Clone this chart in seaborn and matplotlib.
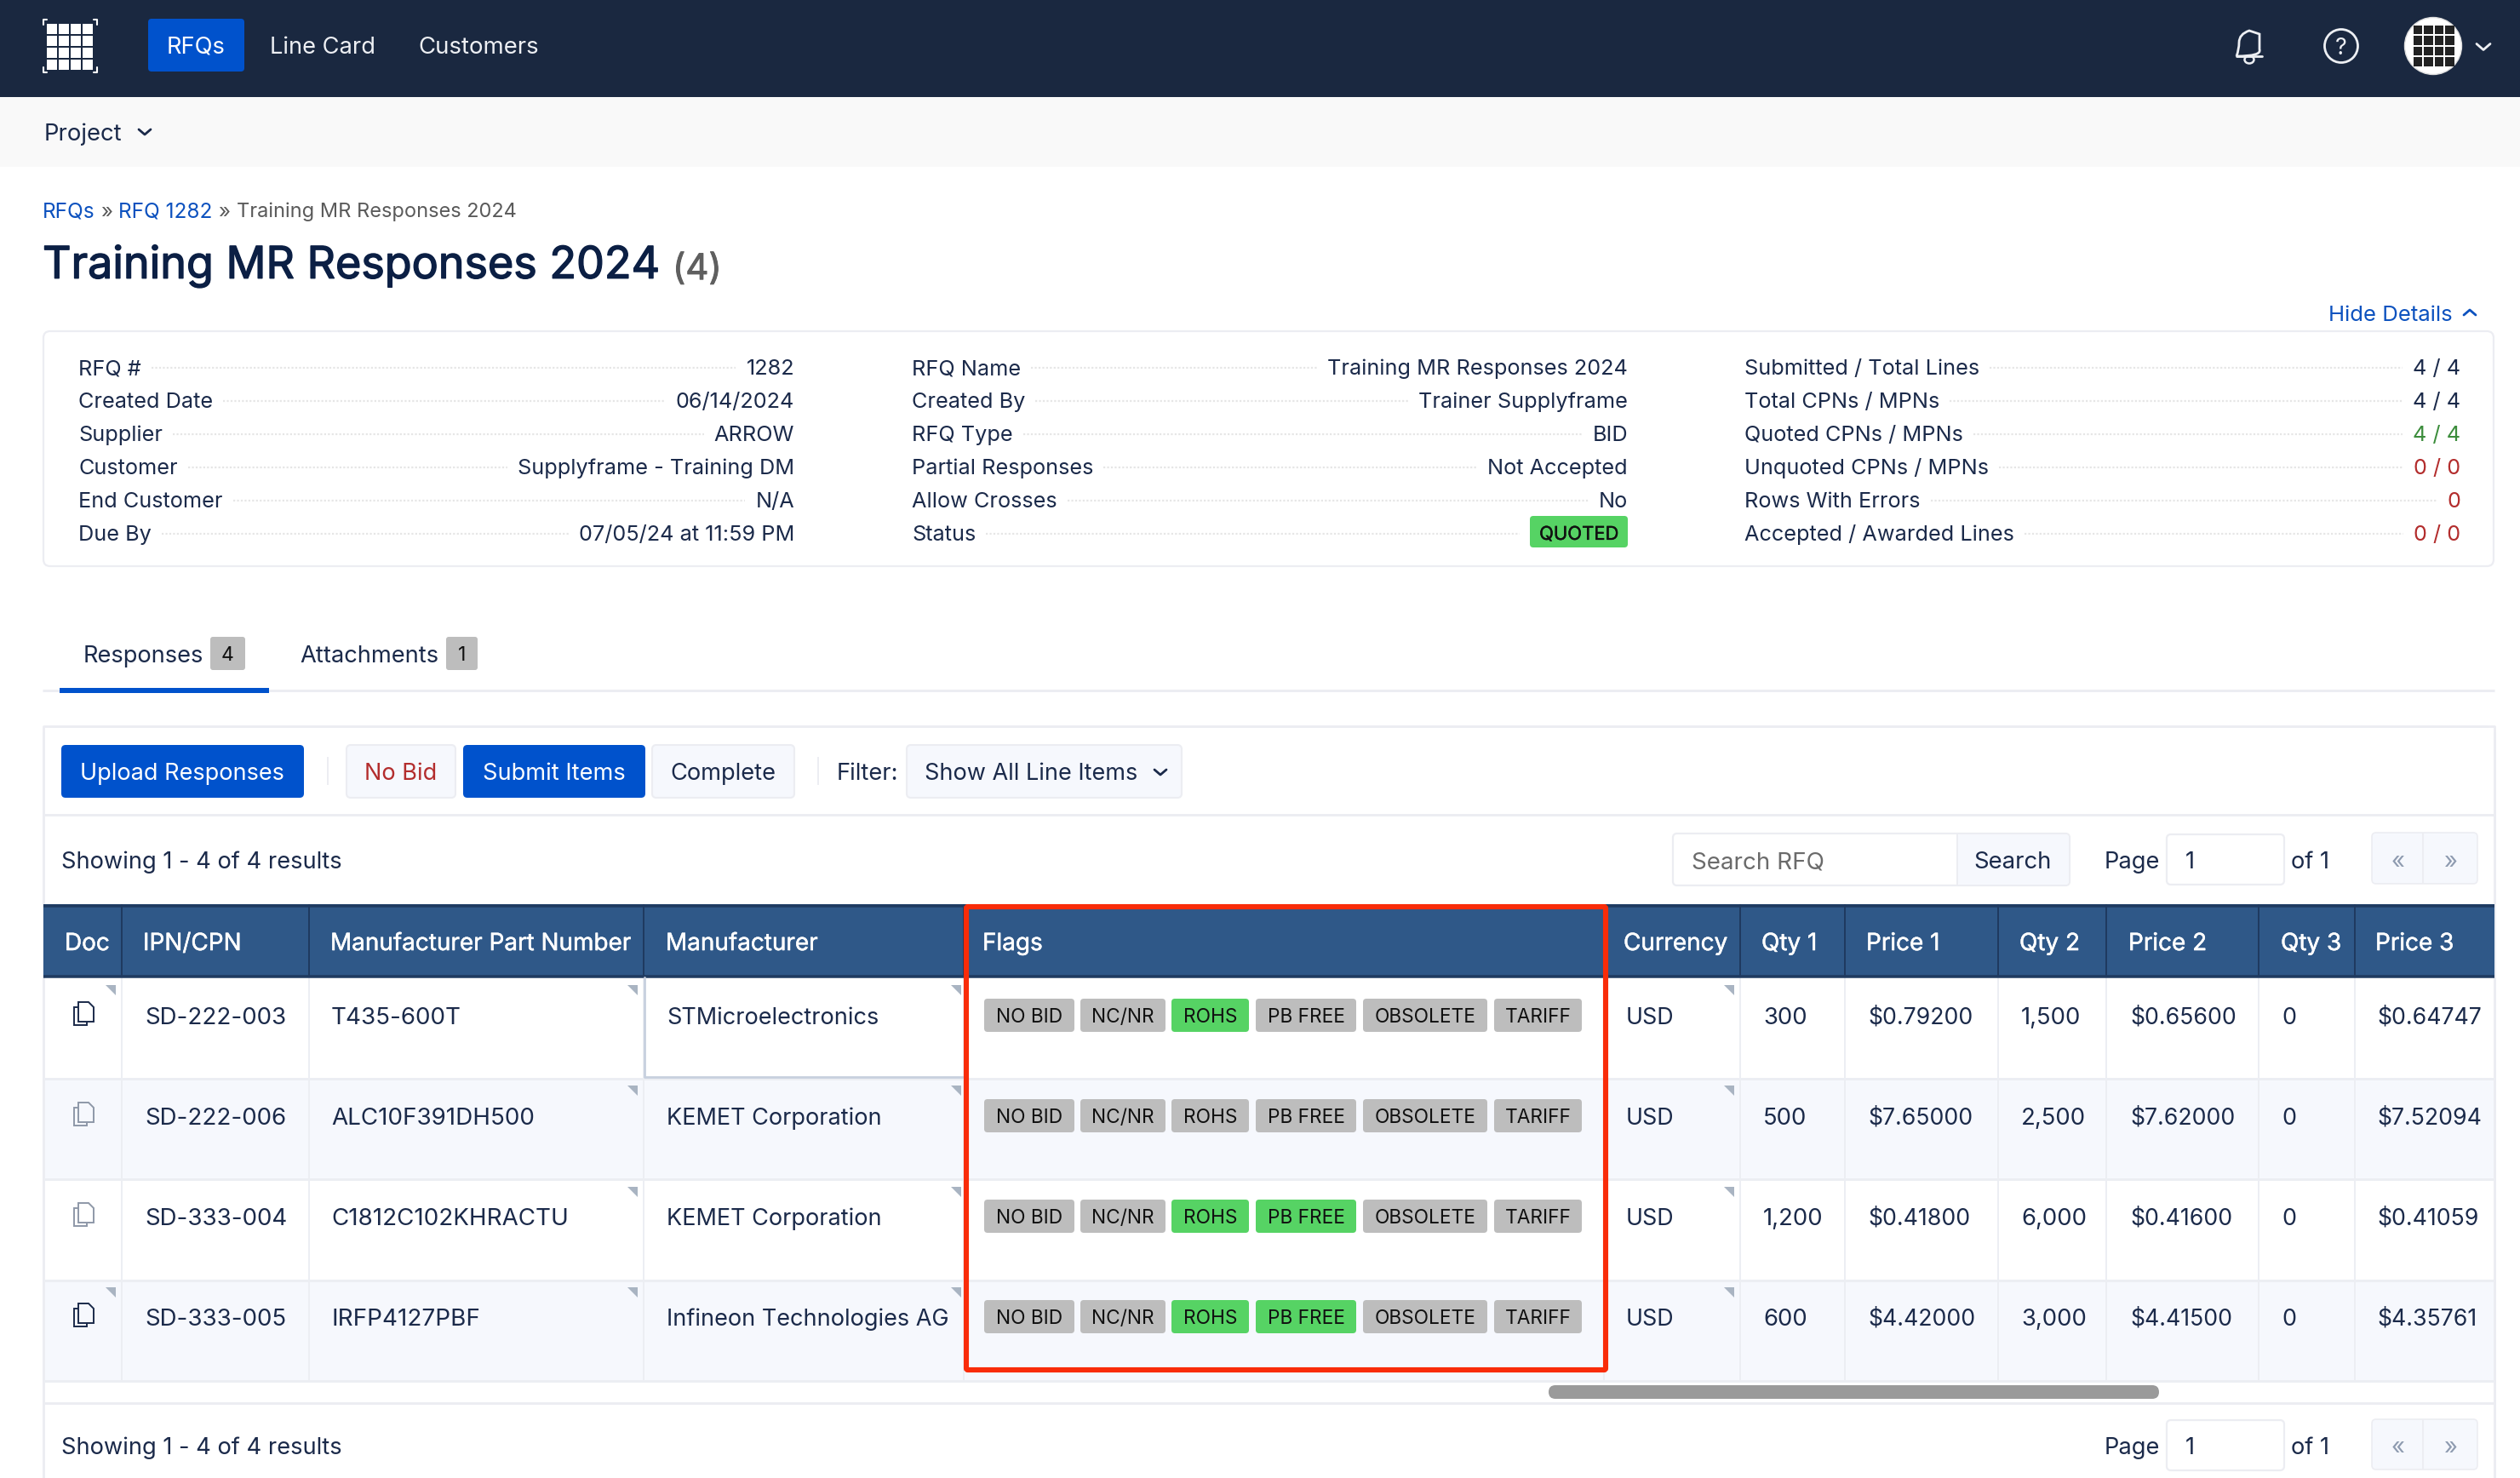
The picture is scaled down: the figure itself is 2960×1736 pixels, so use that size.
import numpy as np
import pandas as pd
import matplotlib.pyplot as plt
import matplotlib.patheffects as pe
from matplotlib.patches import FancyBboxPatch, Rectangle, Ellipse, Polygon, PathPatch
from matplotlib.path import Path
import seaborn as sns

# table content
headers = ['Doc', 'IPN/CPN', 'Manufacturer Part Number', 'Manufacturer', 'Flags', 'Currency',
           'Qty 1', 'Price 1', 'Qty 2', 'Price 2', 'Qty 3', 'Price 3']
ipn = ['SD-222-003', 'SD-222-006', 'SD-333-004', 'SD-333-005']
mpn = ['T435-600T', 'ALC10F391DH500', 'C1812C102KHRACTU', 'IRFP4127PBF']
manufacturer = ['STMicroelectronics', 'KEMET Corporation', 'KEMET Corporation', 'Infineon Technologies AG']
currency = ['USD', 'USD', 'USD', 'USD']
qty1 = ['300', '500', '1,200', '600']
price1 = ['$0.79200', '$7.65000', '$0.41800', '$4.42000']
qty2 = ['1,500', '2,500', '6,000', '3,000']
price2 = ['$0.65600', '$7.62000', '$0.41600', '$4.41500']
qty3 = ['0', '0', '0', '0']
price3 = ['$0.64747', '$7.52094', '$0.41059', '$4.35761']

flag_names = ['NO BID', 'NC/NR', 'ROHS', 'PB FREE', 'OBSOLETE', 'TARIFF']
rohs_on = [1, 0, 1, 1]
pbfree_on = [0, 0, 1, 1]
doc_dark = [1, 0, 0, 1]
row_stripe = [0, 1, 0, 1]

# details card
col1_labels = ['RFQ #', 'Created Date', 'Supplier', 'Customer', 'End Customer', 'Due By']
col1_values = ['1282', '06/14/2024', 'ARROW', 'Supplyframe - Training DM', 'N/A', '07/05/24 at 11:59 PM']
col2_labels = ['RFQ Name', 'Created By', 'RFQ Type', 'Partial Responses', 'Allow Crosses', 'Status']
col2_values = ['Training MR Responses 2024', 'Trainer Supplyframe', 'BID', 'Not Accepted', 'No', 'QUOTED']
col3_labels = ['Submitted / Total Lines', 'Total CPNs / MPNs', 'Quoted CPNs / MPNs',
               'Unquoted CPNs / MPNs', 'Rows With Errors', 'Accepted / Awarded Lines']
col3_values = ['4 / 4', '4 / 4', '4 / 4', '0 / 0', '0', '0 / 0']

NAVY = '#1A2840'
BLUE = '#0052CC'
INK = '#1B2A4A'
LINE = '#ECEDF2'
SOFT = '#F6F8FD'
GREEN = '#56D364'
GREY = '#BDBDBD'
RED = '#B32D2D'
W, H = 2960, 1736

sns.set_theme(style='white')
plt.rcParams['font.family'] = ['Inter', 'DejaVu Sans']

fig = plt.figure(figsize=(W / 100, H / 100), dpi=100, facecolor='white')

# striped table body goes through seaborn
body_top, body_bot, body_l, body_r = 1148, 1622, 51, 2930
ax_rows = fig.add_axes([body_l / W, 1 - body_bot / H, (body_r - body_l) / W, (body_bot - body_top) / H], zorder=0)
stripes = pd.DataFrame({'row': row_stripe})
sns.heatmap(stripes, ax=ax_rows, cmap=['#FFFFFF', SOFT], cbar=False, xticklabels=False, yticklabels=False)

ax = fig.add_axes([0, 0, 1, 1], zorder=1)
ax.set_xlim(0, W)
ax.set_ylim(H, 0)
ax.axis('off')
ax.patch.set_alpha(0)


def fs(px):
    return px * 0.72


def txt(x, y, s, px=25.3, color=INK, ha='left', bold=0, z=6):
    # y is the middle of the capitals, bold thickens the outline a little
    t = ax.text(x, y + px * 0.36, s, fontsize=fs(px), color=color, ha=ha, va='baseline', zorder=z)
    if bold:
        t.set_path_effects([pe.withStroke(linewidth=bold, foreground=color)])
    return t


def box(x0, y0, x1, y1, fc, ec='none', lw=0, r=5, z=3):
    p = FancyBboxPatch((x0, y0), x1 - x0, y1 - y0, boxstyle=f'round,pad=0,rounding_size={r}',
                       fc=fc, ec=ec, lw=lw, zorder=z)
    ax.add_patch(p)
    return p


def rect(x0, y0, x1, y1, fc, z=2):
    ax.add_patch(Rectangle((x0, y0), x1 - x0, y1 - y0, fc=fc, ec='none', zorder=z))


def chevron(x, y, w, h, color, lw=2.0, up=False):
    d = -h if up else h
    ax.plot([x - w, x, x + w], [y - d / 2, y + d / 2, y - d / 2], color=color, lw=lw, zorder=6,
            solid_capstyle='round', solid_joinstyle='round')


def hline(x0, x1, y, color=LINE, lw=2.0, z=2):
    ax.plot([x0, x1], [y, y], color=color, lw=lw * 0.72, zorder=z, solid_capstyle='butt')


def vline(x, y0, y1, color=LINE, lw=2.0, z=2):
    ax.plot([x, x], [y0, y1], color=color, lw=lw * 0.72, zorder=z, solid_capstyle='butt')


# top bars
rect(0, 0, W, 114, NAVY)
rect(0, 114, W, 196, '#F9F9F9')

# logo
for i in range(4):
    for j in range(4):
        rect(55 + i * 14, 28 + j * 14, 55 + i * 14 + 12, 28 + j * 14 + 12, '#FFFFFF', z=3)
for cx, cy, sx, sy in [(51, 23, 1, 1), (114, 23, -1, 1), (51, 85, 1, -1), (114, 85, -1, -1)]:
    ax.plot([cx + 4 * sx, cx, cx], [cy, cy, cy + 6 * sy], color='white', lw=1.5, zorder=3)

box(174, 22, 287, 84, BLUE, r=4)
txt(230, 53, 'RFQs', px=27.3, color='white', ha='center')
txt(317, 53, 'Line Card', px=27.3, color='#EDEFF3')
txt(491, 53, 'Customers', px=27.6, color='#EDEFF3')

# bell
bell = Path([(2627, 66), (2630, 58), (2630, 50), (2630, 40), (2642, 36), (2642, 36), (2642, 36), (2654, 40),
             (2654, 50), (2654, 58), (2657, 66), (2627, 66)],
            [Path.MOVETO, Path.CURVE3, Path.CURVE3, Path.CURVE3, Path.CURVE3, Path.LINETO, Path.CURVE3, Path.CURVE3,
             Path.CURVE3, Path.CURVE3, Path.CURVE3, Path.CLOSEPOLY])
ax.add_patch(PathPatch(bell, fc='none', ec='#EDEFF3', lw=2.0, zorder=5))
ax.add_patch(Ellipse((2642, 70), 11, 9, fc='none', ec='#EDEFF3', lw=1.8, zorder=4))
rect(2634, 64, 2650, 67, NAVY, z=4)
ax.plot([2627, 2657], [66, 66], color='#EDEFF3', lw=2.0, zorder=5)

# help icon
ax.add_patch(Ellipse((2750, 54), 39, 39, fc='none', ec='#EDEFF3', lw=2.0, zorder=4))
txt(2750, 54, '?', px=27, color='#EDEFF3', ha='center')

# avatar
ax.add_patch(Ellipse((2858, 54), 67, 67, fc='white', ec='#DDDDDD', lw=1, zorder=3))
for i in range(4):
    for j in range(4):
        rect(2834.5 + i * 12.5, 29.5 + j * 12.5, 2834.5 + i * 12.5 + 10.5, 29.5 + j * 12.5 + 10.5, '#222222', z=4)
chevron(2917, 55, 8, 7, '#EDEFF3')

txt(52, 155, 'Project', px=27.5)
chevron(170, 155, 7, 6, INK)

# breadcrumb and title
txt(50, 247, 'RFQs', px=24.4, color='#0D52BF')
txt(118, 247, '»', px=24, color='#5A5A5A')
txt(139, 247, 'RFQ 1282', px=24.4, color='#0D52BF')
txt(256, 247, '»', px=24, color='#5A5A5A')
txt(278, 247, 'Training MR Responses 2024', px=23.6, color='#5A5A5A')
txt(50, 308, 'Training MR Responses 2024', px=52, color='#0B1F44', bold=1.0)
txt(790, 313, '(4)', px=42, color='#5F5F5F', bold=0.7)
txt(2735, 368, 'Hide Details', px=25.8, color='#0D52BF')
chevron(2901, 367, 7, 6, '#0D52BF', up=True)

# details card
box(51, 389, 2929, 665, 'white', ec=LINE, lw=1.6, r=8, z=1)
renderer = fig.canvas.get_renderer()
row_ys = [431, 470, 509, 548, 587, 626]
columns = [(92, 933, col1_labels, col1_values), (1071, 1912, col2_labels, col2_values),
           (2049, 2890, col3_labels, col3_values)]
col3_colors = [INK, INK, '#3C8D3C', RED, RED, RED]
for c, (xl, xr, labels, values) in enumerate(columns):
    for r, y in enumerate(row_ys):
        t1 = txt(xl, y, labels[r])
        if values[r] == 'QUOTED':
            box(1797, 606, xr, 643, GREEN, r=4)
            txt((1797 + xr) / 2, 626, 'QUOTED', px=22, color='#111111', ha='center', bold=0.3)
            right_edge = 1797
        else:
            color = col3_colors[r] if c == 2 else INK
            t2 = txt(xr, y, values[r], color=color, ha='right')
            right_edge = t2.get_window_extent(renderer).x0
        left_edge = t1.get_window_extent(renderer).x1
        ax.plot([left_edge + 12, right_edge - 12], [y + 1, y + 1], color='#E6E6E6', lw=1.6,
                linestyle=(0, (1, 1)), zorder=2)

# tabs
txt(98, 768, 'Responses', px=27.3)
box(247, 748, 288, 787, GREY, r=3)
txt(267.5, 768, '4', px=23, color='#111111', ha='center')
txt(352, 768, 'Attachments', px=27.3)
box(524, 748, 561, 787, GREY, r=3)
txt(542.5, 768, '1', px=23, color='#111111', ha='center')
hline(50, 2930, 811, lw=3)
rect(70, 808, 316, 814, BLUE, z=3)

# main card outline, open at the bottom of the picture
hline(58, 2923, 853, lw=3)
vline(51, 860, H, lw=3)
vline(2930, 860, H, lw=3)
ax.plot([51, 51, 58], [860, 853, 853], color=LINE, lw=2, zorder=2)
ax.plot([2923, 2930, 2930], [853, 853, 860], color=LINE, lw=2, zorder=2)

# toolbar
box(72, 875, 357, 937, BLUE)
txt(214, 906.5, 'Upload Responses', px=27.1, color='white', ha='center')
vline(385, 889, 922)
box(407, 875, 535, 937, SOFT, ec=LINE, lw=1.5)
txt(471, 906.5, 'No Bid', px=27.1, color=RED, ha='center')
box(544, 875, 758, 937, BLUE)
txt(650.5, 906.5, 'Submit Items', px=27.3, color='white', ha='center')
box(766, 875, 933, 937, SOFT, ec=LINE, lw=1.5)
txt(849.5, 906.5, 'Complete', px=27.3, ha='center')
vline(961, 889, 922)
txt(983, 906.5, 'Filter:', px=27.3)
box(1065, 875, 1388, 937, SOFT, ec=LINE, lw=1.5)
txt(1086, 906.5, 'Show All Line Items', px=27.1)
chevron(1363, 907, 7, 6, INK)
hline(51, 2930, 957, lw=3)


def pager(y, box_y0, box_y1, pg_y0, pg_y1):
    txt(72, y, 'Showing 1 - 4 of 4 results', px=27.3)
    txt(2472, y, 'Page', px=27.3)
    box(2545, box_y0, 2683, box_y1, 'white', ec=LINE, lw=1.6)
    txt(2567, y, '1', px=27.3)
    txt(2691, y, 'of 1', px=27.3)
    box(2786, pg_y0, 2910, pg_y1, SOFT, ec=LINE, lw=1.2)
    vline(2846, pg_y0, pg_y1, z=4)
    txt(2817, y, '«', px=27.3, color='#8E9BB0', ha='center')
    txt(2879, y, '»', px=27.3, color='#8E9BB0', ha='center')


pager(1010.5, 980, 1039, 978, 1038)
pager(1698.5, 1668, 1727, 1667, 1726)

box(1965, 979, 2431, 1040, 'white', ec=LINE, lw=1.6)
box(2299, 980, 2430, 1039, SOFT, r=4, z=4)
vline(2299, 979, 1040, z=5)
txt(1987, 1010, 'Search RFQ', px=27.8, color='#6B6B6B')
txt(2364.5, 1010.5, 'Search', px=27.5, ha='center')

# table header
rect(51, 1062, 2930, 1148, '#2F5888')
hline(51, 2930, 1063.5, color='#1F3A60', lw=3.5, z=3)
hline(51, 2930, 1146.5, color='#1F3A60', lw=3.5, z=3)
col_edges = [143, 363, 756, 1132, 1884, 2044, 2167, 2347, 2474, 2653, 2766]
for x in col_edges:
    vline(x, 1062, 1148, color='#1F3A60', lw=2, z=3)
    vline(x, 1148, 1622, color='#ECEEF3', lw=2, z=2)
head_x = [76, 168, 388, 782, 1154, 1907, 2069, 2192, 2372, 2500, 2679, 2790]
for x, name in zip(head_x, headers):
    txt(x, 1106, name, px=27.9, color='white', bold=0.35)

# table rows
row_tops = [1148, 1266, 1385, 1503]
row_mid = [1193, 1311, 1429, 1547]
badge_tops = [1173, 1291, 1409, 1527]
badge_x = [(1156, 1262), (1269, 1369), (1376, 1467), (1475, 1593), (1601, 1747), (1755, 1858)]
cell_x = [(170, ipn, 27.7), (389, mpn, 27.8), (783, manufacturer, 27.1), (1910, currency, 26.9),
          (2071, qty1, 27.5), (2194, price1, 26.7), (2374, qty2, 27.5), (2502, price2, 26.7),
          (2680, qty3, 26.9), (2792, price3, 26.7)]
tri_cols = [749, 1129, 2037]

for r in range(4):
    hline(51, 2930, row_tops[r] + 119 if r < 3 else 1622, color='#ECEEF3', lw=3)
    for x, values, size in cell_x:
        txt(x, row_mid[r], values[r], px=size)

    # document icon
    ic = INK if doc_dark[r] else '#8E98A8'
    y0 = row_mid[r] - 16
    ax.add_patch(Rectangle((87, y0 + 6), 15, 21, fc='none', ec=ic, lw=1.4, zorder=4))
    ax.add_patch(Polygon([(92, y0), (104, y0), (110, y0 + 6), (110, y0 + 23), (92, y0 + 23)],
                         fc='white' if row_stripe[r] == 0 else SOFT, ec=ic, lw=1.4, zorder=5))

    # little corner marks
    tri = list(tri_cols) + ([136] if doc_dark[r] else [])
    for xr in tri:
        top = row_tops[r] + 9
        ax.add_patch(Polygon([(xr - 12, top), (xr, top), (xr, top + 12)], fc='#A9B4C2', ec='none', zorder=4))

    # flags
    for name, (x0, x1) in zip(flag_names, badge_x):
        on = (name == 'ROHS' and rohs_on[r]) or (name == 'PB FREE' and pbfree_on[r])
        box(x0, badge_tops[r], x1, badge_tops[r] + 39, GREEN if on else GREY, r=4, z=3)
        txt((x0 + x1) / 2, badge_tops[r] + 19.5, name, px=22.7, color='#111111', ha='center', z=7)

# selected cell
ax.plot([757, 757, 1132], [1148, 1265, 1265], color='#C7D0DE', lw=2, zorder=3)

# highlight box
box(1135, 1065, 1886, 1609, 'none', ec='#F92C09', lw=4.4, r=2, z=8)

# scrollbar and footer of the table
box(1819, 1627, 2536, 1643, '#9A9A9A', r=8)
hline(51, 2930, 1648, lw=3)

fig.savefig('out.png', dpi=100)
